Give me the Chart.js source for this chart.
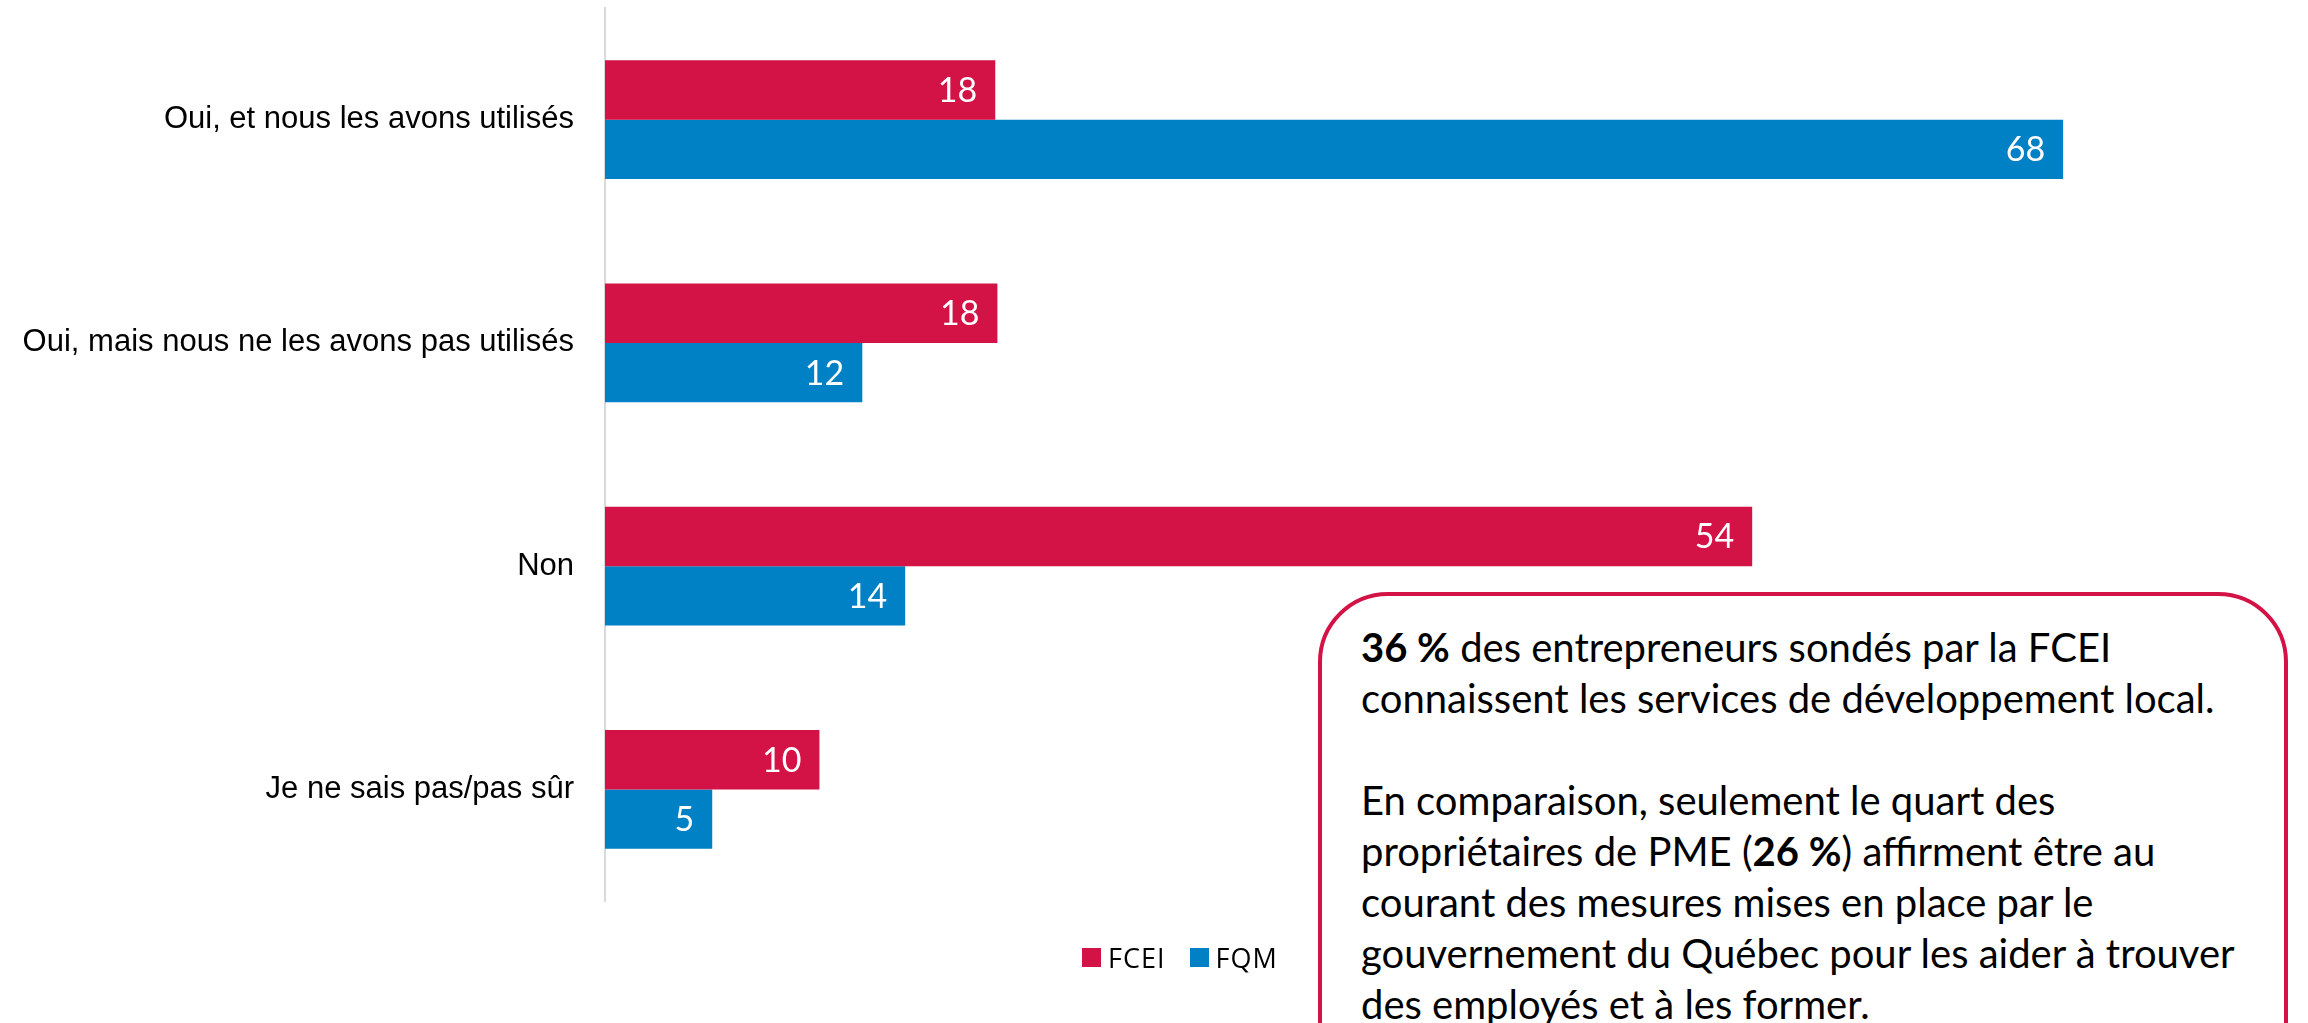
<!DOCTYPE html>
<html lang="fr">
<head>
<meta charset="utf-8">
<script src="https://cdn.jsdelivr.net/npm/chart.js@4/dist/chart.umd.min.js"></script>
<style>
  html, body { margin: 0; padding: 0; background: #fff; overflow: hidden; }
  #wrap { position: relative; width: 2308px; height: 1023px; }
  #legend { position: absolute; left: 1082px; top: 939px; display: flex; font: 27px "Open Sans", sans-serif; letter-spacing: 1px; color: #000; }
  #legend .item { display: flex; align-items: center; margin-right: 24px; }
  #legend .sw { width: 19px; height: 19px; margin-right: 7px; }
  #note {
    position: absolute; left: 1318px; top: 592px; width: 970px; height: 520px;
    box-sizing: border-box; border: 4px solid #d31245; border-radius: 70px;
    padding: 26px 0 0 39px; font: 40px Lato, sans-serif; line-height: 51px;
    color: #000; white-space: nowrap; background: #fff;
  }
</style>
</head>
<body>
<div id="wrap">
  <canvas id="barChart"></canvas>
  <div id="legend"></div>
  <div id="note"><b>36 %</b> des entrepreneurs sondés par la FCEI<br>connaissent les services de développement local.<br><br>En comparaison, seulement le quart des<br>propriétaires de PME (<b>26 %</b>) affirment être au<br>courant des mesures mises en place par le<br>gouvernement du Québec pour les aider à trouver<br>des employés et à les former.</div>
</div>
<script>
const categories = ['Oui, et nous les avons utilisés', 'Oui, mais nous ne les avons pas utilisés', 'Non', 'Je ne sais pas/pas sûr'];
const seriesNames = ['FCEI', 'FQM'];
const fceiValues = [18.2, 18.3, 53.5, 10];
const fqmValues = [68, 12, 14, 5];
const seriesColors = ['#d31245', '#0081c6'];

// white value labels at the end of each bar
const barLabels = {
  id: 'barLabels',
  afterDatasetsDraw(chart) {
    const ctx = chart.ctx;
    ctx.save();
    ctx.fillStyle = '#fff';
    ctx.font = '34px Lato, sans-serif';
    ctx.textAlign = 'right';
    ctx.textBaseline = 'middle';
    chart.data.datasets.forEach((ds, i) => {
      chart.getDatasetMeta(i).data.forEach((bar, j) => {
        ctx.fillText(Math.round(ds.data[j]), bar.x - 18, bar.y + 1);
      });
    });
    ctx.restore();
  }
};

const canvas = document.getElementById('barChart');
canvas.width = 2308;
canvas.height = 1023;

const chart = new Chart(canvas.getContext('2d'), {
  type: 'bar',
  data: {
    labels: categories,
    datasets: [
      { label: seriesNames[0], data: fceiValues, backgroundColor: seriesColors[0] },
      { label: seriesNames[1], data: fqmValues, backgroundColor: seriesColors[1] },
    ],
  },
  options: {
    indexAxis: 'y',
    responsive: false,
    animation: false,
    categoryPercentage: 0.533,
    barPercentage: 1,
    layout: { padding: { top: 8, right: 202, bottom: 122, left: 0 } },
    plugins: { legend: { display: false }, tooltip: { enabled: false } },
    scales: {
      x: { display: false, min: 0, max: 70 },
      y: {
        grid: { display: false, drawTicks: false },
        border: { display: true, color: '#d9d9d9', width: 2 },
        ticks: { color: '#000', padding: 31, font: { family: 'Liberation Sans', size: 31 } },
        afterFit(scale) {
          scale.width = 605;
          scale.paddingTop = 0;
          scale.paddingBottom = 0;
        },
      },
    },
  },
  plugins: [barLabels],
});

const legend = document.getElementById('legend');
chart.data.datasets.forEach(ds => {
  const item = document.createElement('div');
  item.className = 'item';
  item.innerHTML = '<span class="sw" style="background:' + ds.backgroundColor + '"></span>' + ds.label;
  legend.appendChild(item);
});
</script>
</body>
</html>
